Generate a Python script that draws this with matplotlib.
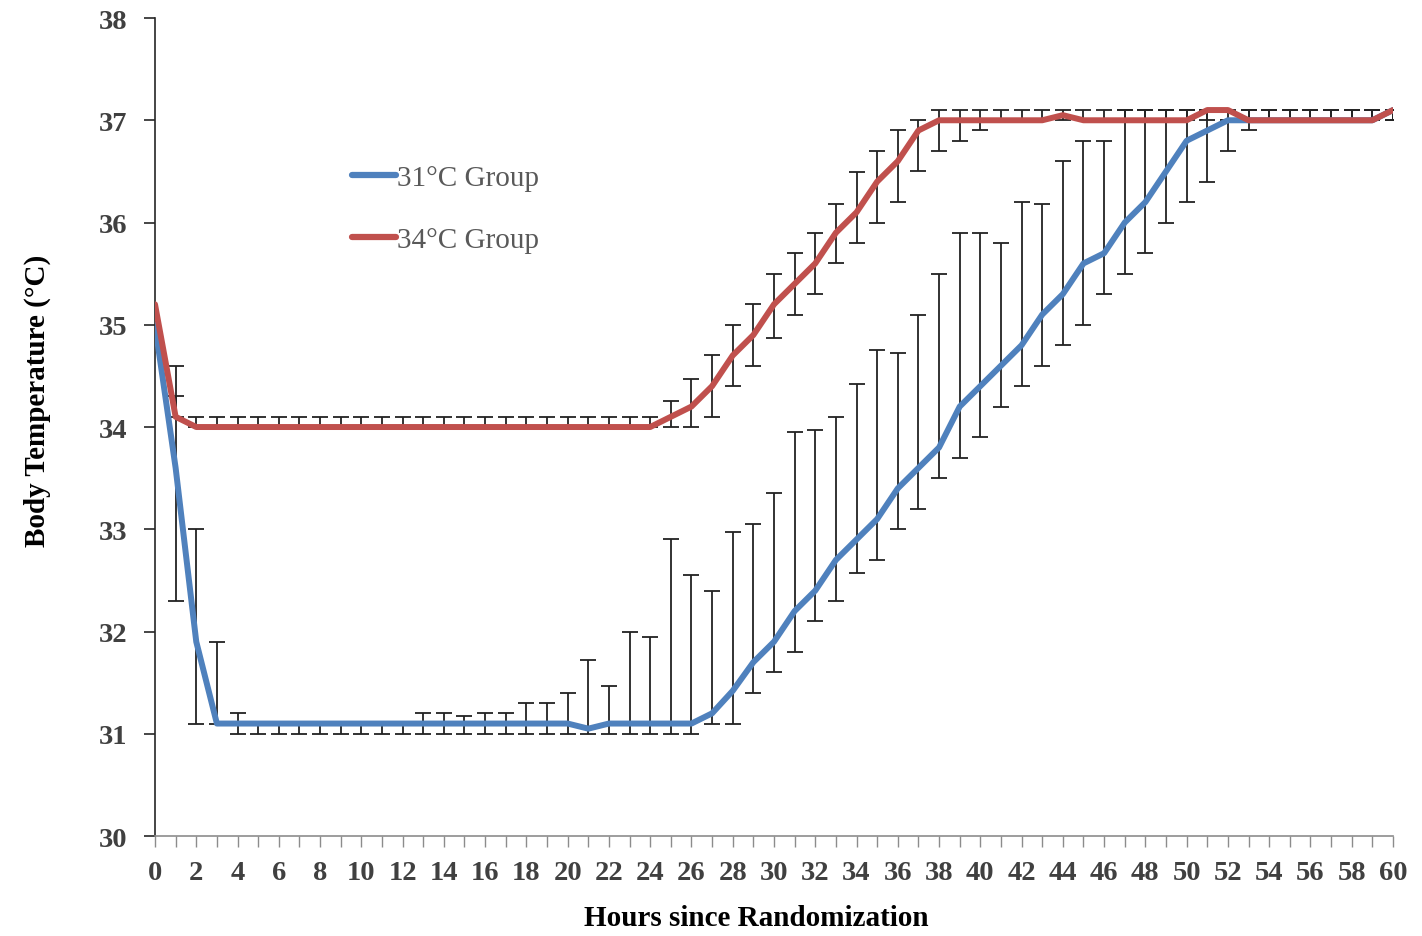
import numpy as np
import matplotlib
matplotlib.use("Agg")
import matplotlib.pyplot as plt
from matplotlib.ticker import MultipleLocator

hours = list(range(0, 61))

blue_mean = [35.0, 33.6, 31.9, 31.1, 31.1, 31.1, 31.1, 31.1, 31.1, 31.1,
             31.1, 31.1, 31.1, 31.1, 31.1, 31.1, 31.1, 31.1, 31.1, 31.1,
             31.1, 31.05, 31.1, 31.1, 31.1, 31.1, 31.1, 31.2, 31.42, 31.7,
             31.9, 32.2, 32.4, 32.7, 32.9, 33.1, 33.4, 33.6, 33.8, 34.2,
             34.4, 34.6, 34.8, 35.1, 35.3, 35.6, 35.7, 36.0, 36.2, 36.5,
             36.8, 36.9, 37.0, 37.0, 37.0, 37.0, 37.0, 37.0, 37.0, 37.0,
             37.1]
blue_low = [35.0, 32.3, 31.1, 31.1, 31.0, 31.0, 31.0, 31.0, 31.0, 31.0,
            31.0, 31.0, 31.0, 31.0, 31.0, 31.0, 31.0, 31.0, 31.0, 31.0,
            31.0, 31.0, 31.0, 31.0, 31.0, 31.0, 31.0, 31.1, 31.1, 31.4,
            31.6, 31.8, 32.1, 32.3, 32.57, 32.7, 33.0, 33.2, 33.5, 33.7,
            33.9, 34.2, 34.4, 34.6, 34.8, 35.0, 35.3, 35.5, 35.7, 36.0,
            36.2, 36.4, 36.7, 37.0, 37.0, 37.0, 37.0, 37.0, 37.0, 37.0,
            37.0]
blue_high = [35.0, 34.3, 33.0, 31.9, 31.2, 31.1, 31.1, 31.1, 31.1, 31.1,
             31.1, 31.1, 31.1, 31.2, 31.2, 31.17, 31.2, 31.2, 31.3, 31.3,
             31.4, 31.72, 31.47, 32.0, 31.95, 32.9, 32.55, 32.4, 32.97, 33.05,
             33.35, 33.95, 33.97, 34.1, 34.42, 34.75, 34.72, 35.1, 35.5, 35.9,
             35.9, 35.8, 36.2, 36.18, 36.6, 36.8, 36.8, 37.1, 37.1, 37.1,
             37.1, 37.1, 37.0, 37.1, 37.1, 37.1, 37.1, 37.1, 37.1, 37.1,
             37.1]

red_mean = [35.2, 34.1, 34.0, 34.0, 34.0, 34.0, 34.0, 34.0, 34.0, 34.0,
            34.0, 34.0, 34.0, 34.0, 34.0, 34.0, 34.0, 34.0, 34.0, 34.0,
            34.0, 34.0, 34.0, 34.0, 34.0, 34.1, 34.2, 34.4, 34.7, 34.9,
            35.2, 35.4, 35.6, 35.9, 36.1, 36.4, 36.6, 36.9, 37.0, 37.0,
            37.0, 37.0, 37.0, 37.0, 37.05, 37.0, 37.0, 37.0, 37.0, 37.0,
            37.0, 37.1, 37.1, 37.0, 37.0, 37.0, 37.0, 37.0, 37.0, 37.0,
            37.1]
red_low = [35.2, 34.1, 34.0, 34.0, 34.0, 34.0, 34.0, 34.0, 34.0, 34.0,
           34.0, 34.0, 34.0, 34.0, 34.0, 34.0, 34.0, 34.0, 34.0, 34.0,
           34.0, 34.0, 34.0, 34.0, 34.0, 34.0, 34.0, 34.1, 34.4, 34.6,
           34.87, 35.1, 35.3, 35.6, 35.8, 36.0, 36.2, 36.5, 36.7, 36.8,
           36.9, 37.0, 37.0, 37.0, 37.0, 37.0, 37.0, 37.0, 37.0, 37.0,
           37.0, 37.0, 37.0, 36.9, 37.0, 37.0, 37.0, 37.0, 37.0, 37.0,
           37.0]
red_high = [35.2, 34.6, 34.1, 34.1, 34.1, 34.1, 34.1, 34.1, 34.1, 34.1,
            34.1, 34.1, 34.1, 34.1, 34.1, 34.1, 34.1, 34.1, 34.1, 34.1,
            34.1, 34.1, 34.1, 34.1, 34.1, 34.25, 34.47, 34.7, 35.0, 35.2,
            35.5, 35.7, 35.9, 36.18, 36.49, 36.7, 36.9, 37.0, 37.1, 37.1,
            37.1, 37.1, 37.1, 37.1, 37.1, 37.1, 37.1, 37.1, 37.1, 37.1,
            37.1, 37.1, 37.1, 37.1, 37.1, 37.1, 37.1, 37.1, 37.1, 37.1,
            37.1]

series_labels = ["31°C Group", "34°C Group"]
x_ticklabels = [str(h) for h in range(0, 61, 2)]
y_ticks = list(range(30, 39))

BLUE = "#4F81BD"
RED = "#C0504D"
SERIF = ["Liberation Serif", "DejaVu Serif"]

fig = plt.figure(figsize=(14.22, 9.37), dpi=100)
ax = fig.add_axes([0.109, 0.1067, 0.8706, 0.873])

x = np.array(hours)
for mean, low, high in ((blue_mean, blue_low, blue_high), (red_mean, red_low, red_high)):
    m = np.array(mean); lo = np.array(low); hi = np.array(high)
    err = np.vstack([m - lo, hi - m])
    ax.errorbar(x[1:], m[1:], yerr=err[:, 1:], fmt="none", ecolor="#222222",
                elinewidth=1.3, capsize=6, capthick=1.3, zorder=2)

ax.plot(x, blue_mean, color=BLUE, lw=4.3, solid_capstyle="round",
        solid_joinstyle="round", label=series_labels[0], zorder=3)
ax.plot(x, red_mean, color=RED, lw=4.3, solid_capstyle="round",
        solid_joinstyle="round", label=series_labels[1], zorder=4)

ax.set_xlim(0, 60)
ax.set_ylim(30, 38)
ax.spines["top"].set_visible(False)
ax.spines["right"].set_visible(False)
ax.spines["left"].set_color("#262626")
ax.spines["left"].set_linewidth(1.2)
ax.spines["bottom"].set_color("#8c8c8c")
ax.spines["bottom"].set_linewidth(1.2)

ax.set_xticks(list(range(0, 61, 2)))
ax.set_xticklabels(x_ticklabels)
ax.xaxis.set_minor_locator(MultipleLocator(1))
ax.tick_params(axis="x", which="both", direction="out", length=8, width=1.0,
               color="#8c8c8c", pad=9)
ax.set_yticks(y_ticks)
ax.tick_params(axis="y", direction="out", length=8, width=1.2, color="#262626", pad=12)

for lab in ax.get_xticklabels() + ax.get_yticklabels():
    lab.set_fontfamily(SERIF)
    lab.set_fontweight("bold")
    lab.set_fontsize(20.5)
    lab.set_color("#404040")

ax.set_xlabel("Hours since Randomization", fontfamily=SERIF, fontweight="bold",
              fontsize=21, color="black")
ax.set_ylabel("Body Temperature (°C)", fontfamily=SERIF, fontweight="bold",
              fontsize=21, color="black")
ax.xaxis.set_label_coords(0.4855, -0.0995)
ax.yaxis.set_label_coords(-0.0953, 0.533)
ax.xaxis.label.set_verticalalignment("center")
ax.yaxis.label.set_verticalalignment("center")

leg = ax.legend(loc="upper left", bbox_to_anchor=(0.159, 0.821), frameon=False,
                handlelength=1.5, handletextpad=0.05, labelspacing=1.22,
                borderpad=0, borderaxespad=0,
                prop={"family": SERIF, "size": 21})
for t in leg.get_texts():
    t.set_color("#595959")
for h in leg.get_lines():
    h.set_linewidth(4.5)

fig.savefig("out.png", dpi=100, facecolor="white")
